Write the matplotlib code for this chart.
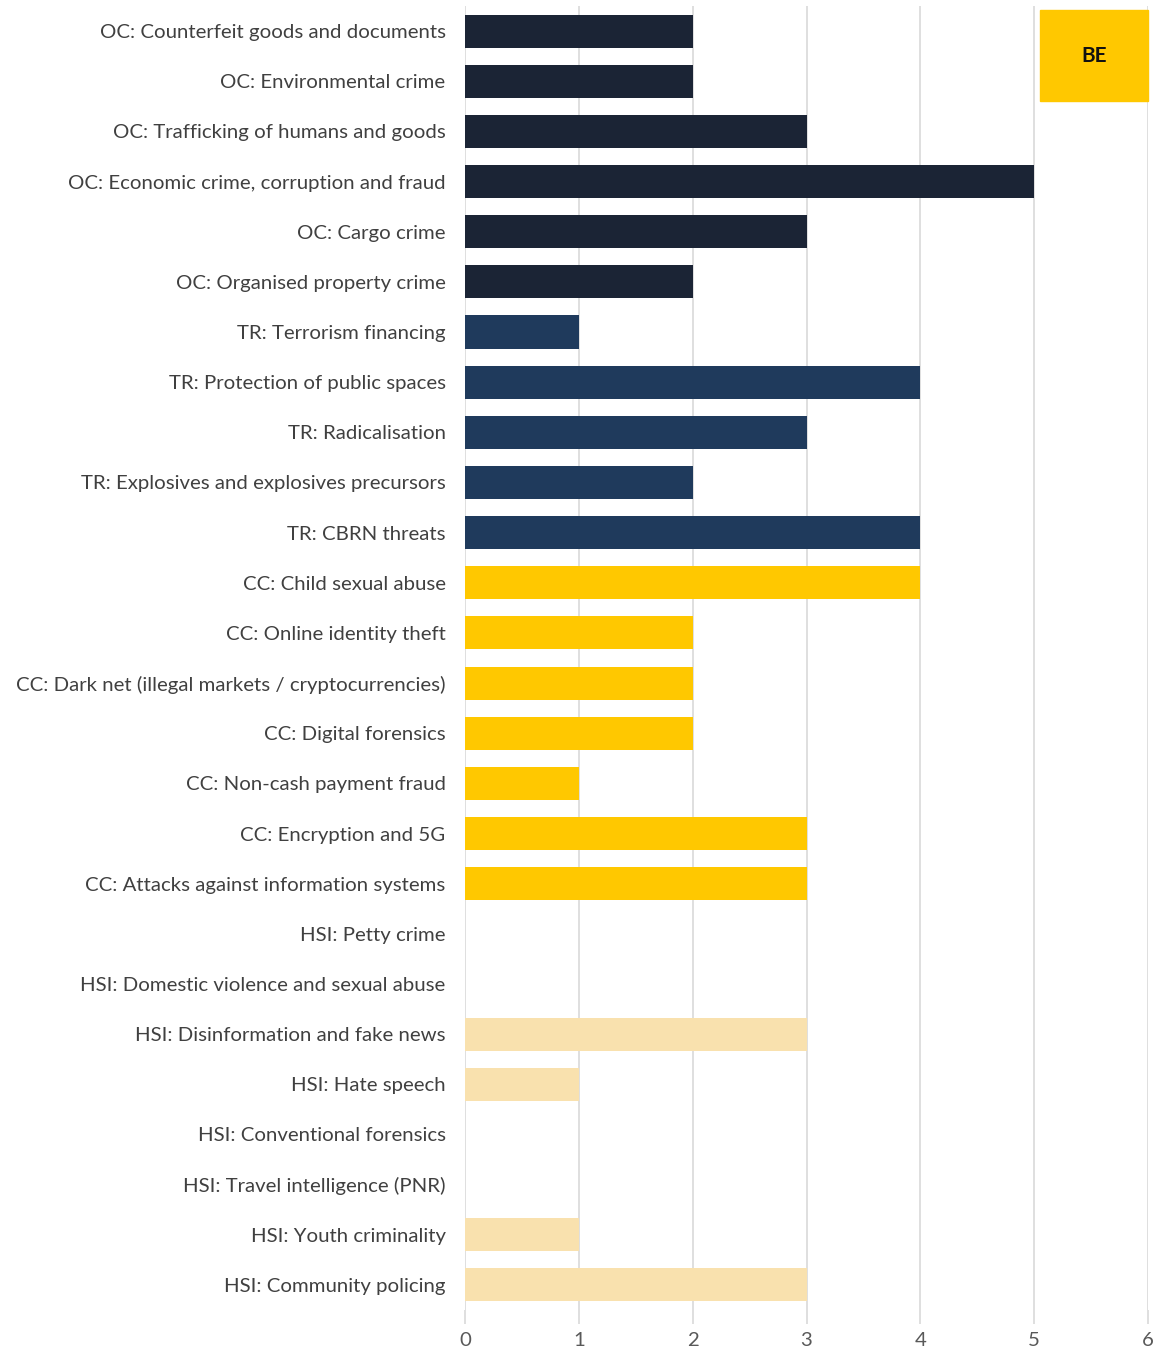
import matplotlib.pyplot as plt

categories = [
    "OC: Counterfeit goods and documents",
    "OC: Environmental crime",
    "OC: Trafficking of humans and goods",
    "OC: Economic crime, corruption and fraud",
    "OC: Cargo crime",
    "OC: Organised property crime",
    "TR: Terrorism financing",
    "TR: Protection of public spaces",
    "TR: Radicalisation",
    "TR: Explosives and explosives precursors",
    "TR: CBRN threats",
    "CC: Child sexual abuse",
    "CC: Online identity theft",
    "CC: Dark net (illegal markets / cryptocurrencies)",
    "CC: Digital forensics",
    "CC: Non-cash payment fraud",
    "CC: Encryption and 5G",
    "CC: Attacks against information systems",
    "HSI: Petty crime",
    "HSI: Domestic violence and sexual abuse",
    "HSI: Disinformation and fake news",
    "HSI: Hate speech",
    "HSI: Conventional forensics",
    "HSI: Travel intelligence (PNR)",
    "HSI: Youth criminality",
    "HSI: Community policing",
]
values = [2, 2, 3, 5, 3, 2, 1, 4, 3, 2, 4, 4, 2, 2, 2, 1, 3, 3, 0, 0, 3, 1, 0, 0, 1, 3]

group_colors = {"OC": "#1b2435", "TR": "#1f3a5c", "CC": "#ffc800", "HSI": "#f9e1ae"}
colors = [group_colors[c.split(":")[0]] for c in categories]

plt.rcParams['font.family'] = ['Lato', 'DejaVu Sans']

fig = plt.figure(figsize=(11.61, 13.54), dpi=100, facecolor='w')
ax = fig.add_axes([465/1161, 1 - 1310/1354, (1148 - 465)/1161, (1310 - 6)/1354])

y = list(range(len(categories)))
ax.barh(y, values, height=0.66, color=colors, zorder=3)
ax.set_ylim(len(categories) - 0.5, -0.5)
ax.set_xlim(0, 6)
ax.set_xticks(range(7))
ax.set_yticks(y)
ax.set_yticklabels(categories)
ax.tick_params(axis='y', length=0, pad=14, labelsize=14.7, labelcolor='#404040')
ax.tick_params(axis='x', length=10, color='#d9d9d9', width=1.2, pad=6, labelsize=14.7, labelcolor='#595959')
ax.grid(True, axis='x', color='#d9d9d9', lw=1.2, zorder=0)
for s in ax.spines.values():
    s.set_visible(False)

# BE legend box
fig.patches.append(plt.Rectangle((1040/1161, 1 - 101/1354), 108/1161, 91/1354,
                                 transform=fig.transFigure, color='#ffc800', zorder=5))
fig.text(1094/1161, 1 - 56/1354, "BE", ha='center', va='center', fontsize=15,
         fontweight='bold', color='#111111', zorder=6)

plt.savefig('out.png', dpi=100)
